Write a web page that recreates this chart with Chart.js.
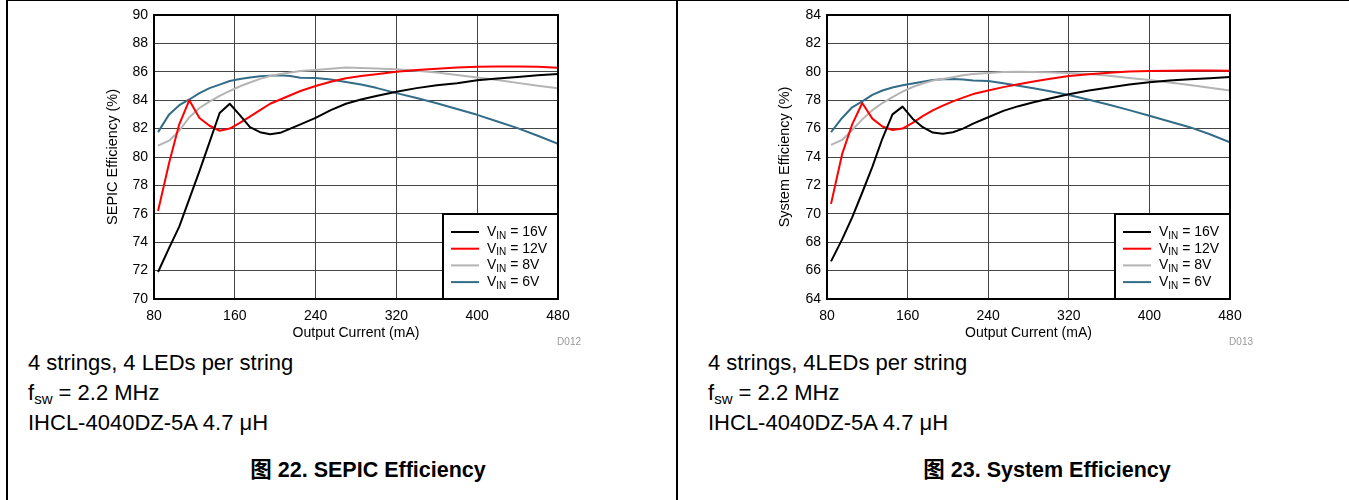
<!DOCTYPE html>
<html>
<head>
<meta charset="utf-8">
<script src="https://cdn.jsdelivr.net/npm/chart.js@4"></script>
<style>
  html, body { margin: 0; padding: 0; background: #fff; }
  #page { position: relative; width: 1349px; height: 500px; overflow: hidden;
          font-family: "Liberation Sans", Arial, "Noto Sans CJK SC", sans-serif; color: #000; }
  .frame { position: absolute; top: 0; left: 6px; width: 1343px; height: 500px;
           border-top: 1px solid #000; border-left: 2px solid #000; box-sizing: border-box; }
  .divider { position: absolute; top: 0; left: 676px; width: 2px; height: 500px; background: #000; }
  canvas { position: absolute; top: 0; }
  .note { position: absolute; font-size: 22px; line-height: 24px; white-space: nowrap; }
  .note sub { font-size: 15px; vertical-align: -4px; line-height: 0; }
  .caption { position: absolute; font-size: 21.5px; line-height: 24px; font-weight: bold;
             white-space: nowrap; transform: translateX(-50%); }
  .code { position: absolute; font-size: 10px; line-height: 12px; color: #999;
          transform: translateX(-100%); }
</style>
</head>
<body>
<div id="page">
  <div class="frame"></div>
  <div class="divider"></div>

  <canvas id="sepicChart" width="677" height="350" style="left:0;width:677px;height:350px"></canvas>
  <canvas id="systemChart" width="672" height="350" style="left:677px;width:672px;height:350px"></canvas>

  <div class="code" style="left:581px;top:336px">D012</div>
  <div class="code" style="left:1253px;top:336px">D013</div>

  <div class="note" style="left:28px;top:351px">4 strings, 4 LEDs per string</div>
  <div class="note" style="left:28px;top:381px">f<sub>sw</sub> = 2.2 MHz</div>
  <div class="note" style="left:28px;top:411px">IHCL-4040DZ-5A 4.7 μH</div>
  <div class="caption" style="left:368px;top:458px">图 22. SEPIC Efficiency</div>

  <div class="note" style="left:708px;top:351px">4 strings, 4LEDs per string</div>
  <div class="note" style="left:708px;top:381px">f<sub>sw</sub> = 2.2 MHz</div>
  <div class="note" style="left:708px;top:411px">IHCL-4040DZ-5A 4.7 μH</div>
  <div class="caption" style="left:1047px;top:458px">图 23. System Efficiency</div>
</div>

<script>
// Output current (mA), shared by every curve
var currentMA = [84, 95, 105, 115, 125, 135, 145, 155, 165, 175, 185, 195, 205, 215, 225,
                 240, 255, 270, 285, 300, 320, 340, 360, 380, 400, 420, 440, 460, 480];

// SEPIC efficiency (%)
var sepic16 = [71.9, 73.6, 75.1, 77.05, 79.0, 81.05, 83.1, 83.75, 82.95, 82.1, 81.75, 81.6, 81.7, 82.0, 82.3,
               82.75, 83.3, 83.75, 84.05, 84.3, 84.6, 84.85, 85.05, 85.2, 85.4, 85.52, 85.63, 85.75, 85.85];
var sepic12 = [76.2, 79.6, 82.3, 84.0, 82.75, 82.2, 81.85, 82.0, 82.4, 82.85, 83.3, 83.75, 84.05, 84.35, 84.65,
               85.0, 85.3, 85.55, 85.7, 85.82, 86.0, 86.12, 86.22, 86.3, 86.35, 86.37, 86.38, 86.35, 86.28];
var sepic8  = [80.8, 81.15, 81.85, 82.8, 83.45, 83.9, 84.3, 84.65, 84.98, 85.25, 85.5, 85.7, 85.85, 85.95, 86.05,
               86.13, 86.22, 86.3, 86.27, 86.24, 86.18, 86.08, 85.95, 85.78, 85.6, 85.43, 85.22, 85.02, 84.84];
var sepic6  = [81.75, 83.0, 83.65, 84.05, 84.5, 84.85, 85.1, 85.35, 85.5, 85.6, 85.68, 85.72, 85.75, 85.7, 85.58,
               85.57, 85.45, 85.28, 85.1, 84.87, 84.5, 84.15, 83.78, 83.38, 82.97, 82.5, 82.03, 81.5, 80.93];

// System efficiency (%)
var system16 = [66.65, 68.2, 69.75, 71.5, 73.3, 75.3, 77.0, 77.55, 76.7, 76.1, 75.72, 75.63, 75.74, 76.0, 76.35,
                76.8, 77.25, 77.58, 77.85, 78.1, 78.42, 78.68, 78.9, 79.1, 79.27, 79.38, 79.47, 79.55, 79.64];
var system12 = [70.7, 74.2, 76.3, 77.8, 76.7, 76.15, 75.9, 76.0, 76.4, 76.88, 77.28, 77.62, 77.92, 78.18, 78.43,
                78.68, 78.92, 79.13, 79.32, 79.5, 79.7, 79.82, 79.93, 80.02, 80.06, 80.08, 80.1, 80.1, 80.08];
var system8  = [74.85, 75.2, 75.9, 76.65, 77.3, 77.8, 78.22, 78.6, 78.93, 79.18, 79.38, 79.5, 79.62, 79.75, 79.84,
                79.92, 79.98, 80.0, 79.98, 79.96, 79.92, 79.85, 79.72, 79.57, 79.42, 79.25, 79.07, 78.88, 78.68];
var system6  = [75.75, 76.75, 77.5, 77.92, 78.38, 78.68, 78.9, 79.05, 79.18, 79.3, 79.42, 79.47, 79.5, 79.45, 79.38,
                79.35, 79.2, 79.02, 78.84, 78.65, 78.37, 78.03, 77.68, 77.3, 76.9, 76.5, 76.1, 75.6, 75.04];

var vinLabels = ["16V", "12V", "8V", "6V"];
var lineColors = ["#000000", "#ff0000", "#b4b4b4", "#336c88"];
var currentTicks = [80, 480, 80];       // min, max, step
var sepicTicks = [70, 90, 2];
var systemTicks = [64, 84, 2];

var fontFamily = '"Liberation Sans", Arial, sans-serif';

// frame around the plot area + boxed legend with V_IN subscripts
var framePlugin = {
    id: "frameAndLegend",
    afterDraw: function (chart) {
        var ctx = chart.ctx;
        var a = chart.chartArea;
        ctx.save();
        ctx.strokeStyle = "#000";
        ctx.lineWidth = 2;
        ctx.strokeRect(a.left, a.top, a.right - a.left, a.bottom - a.top);

        var bw = 115, bh = 85;
        var bx = a.right - bw, by = a.bottom - bh;
        ctx.fillStyle = "#fff";
        ctx.fillRect(bx, by, bw, bh);
        ctx.strokeRect(bx, by, bw, bh);

        ctx.textBaseline = "middle";
        chart.data.datasets.forEach(function (ds, i) {
            var y = by + 18 + i * 16.7;
            ctx.strokeStyle = ds.borderColor;
            ctx.lineWidth = 2;
            ctx.beginPath();
            ctx.moveTo(bx + 8, y);
            ctx.lineTo(bx + 36, y);
            ctx.stroke();

            ctx.fillStyle = "#000";
            var x = bx + 44;
            ctx.font = "14px " + fontFamily;
            ctx.fillText("V", x, y);
            x += ctx.measureText("V").width;
            ctx.font = "10px " + fontFamily;
            ctx.fillText("IN", x, y + 4);
            x += ctx.measureText("IN").width;
            ctx.font = "14px " + fontFamily;
            ctx.fillText(" = " + vinLabels[i], x, y);
        });
        ctx.restore();
    }
};

function makeChart(canvasId, series, yTicks, yTitle, box) {
    var ctx = document.getElementById(canvasId).getContext("2d");
    return new Chart(ctx, {
        type: "line",
        data: {
            datasets: series.map(function (vals, i) {
                return {
                    label: "VIN = " + vinLabels[i],
                    data: currentMA.map(function (x, j) { return { x: x, y: vals[j] }; }),
                    borderColor: lineColors[i],
                    borderWidth: 2,
                    pointRadius: 0,
                    tension: 0,
                    borderJoinStyle: "round",
                    fill: false
                };
            })
        },
        options: {
            responsive: false,
            animation: false,
            layout: { padding: { left: 0, right: box.padRight, top: 15, bottom: 0 } },
            plugins: {
                legend: { display: false },
                tooltip: { enabled: false }
            },
            scales: {
                x: {
                    type: "linear",
                    min: currentTicks[0], max: currentTicks[1],
                    ticks: { stepSize: currentTicks[2], color: "#000", padding: 9,
                             font: { family: fontFamily, size: 14 }, maxRotation: 0 },
                    grid: { color: "#444", lineWidth: 1, drawTicks: false },
                    border: { display: false },
                    title: { display: true, text: "Output Current (mA)", color: "#000",
                             font: { family: fontFamily, size: 14 }, padding: { top: 0, bottom: 8 } },
                    afterFit: function (scale) { scale.height = 51; }
                },
                y: {
                    min: yTicks[0], max: yTicks[1],
                    ticks: { stepSize: yTicks[2], color: "#000", padding: 6,
                             font: { family: fontFamily, size: 14 } },
                    grid: { color: "#444", lineWidth: 1, drawTicks: false },
                    border: { display: false },
                    title: { display: true, text: yTitle, color: "#000",
                             font: { family: fontFamily, size: 14.5 }, padding: { top: box.titlePad, bottom: 0 } },
                    afterFit: function (scale) { scale.width = box.axisWidth; }
                }
            }
        },
        plugins: [framePlugin]
    });
}

makeChart("sepicChart", [sepic16, sepic12, sepic8, sepic6], sepicTicks, "SEPIC Efficiency (%)",
          { axisWidth: 154, padRight: 119, titlePad: 104.3 });
makeChart("systemChart", [system16, system12, system8, system6], systemTicks, "System Efficiency (%)",
          { axisWidth: 150, padRight: 119, titlePad: 99.3 });
</script>
</body>
</html>
